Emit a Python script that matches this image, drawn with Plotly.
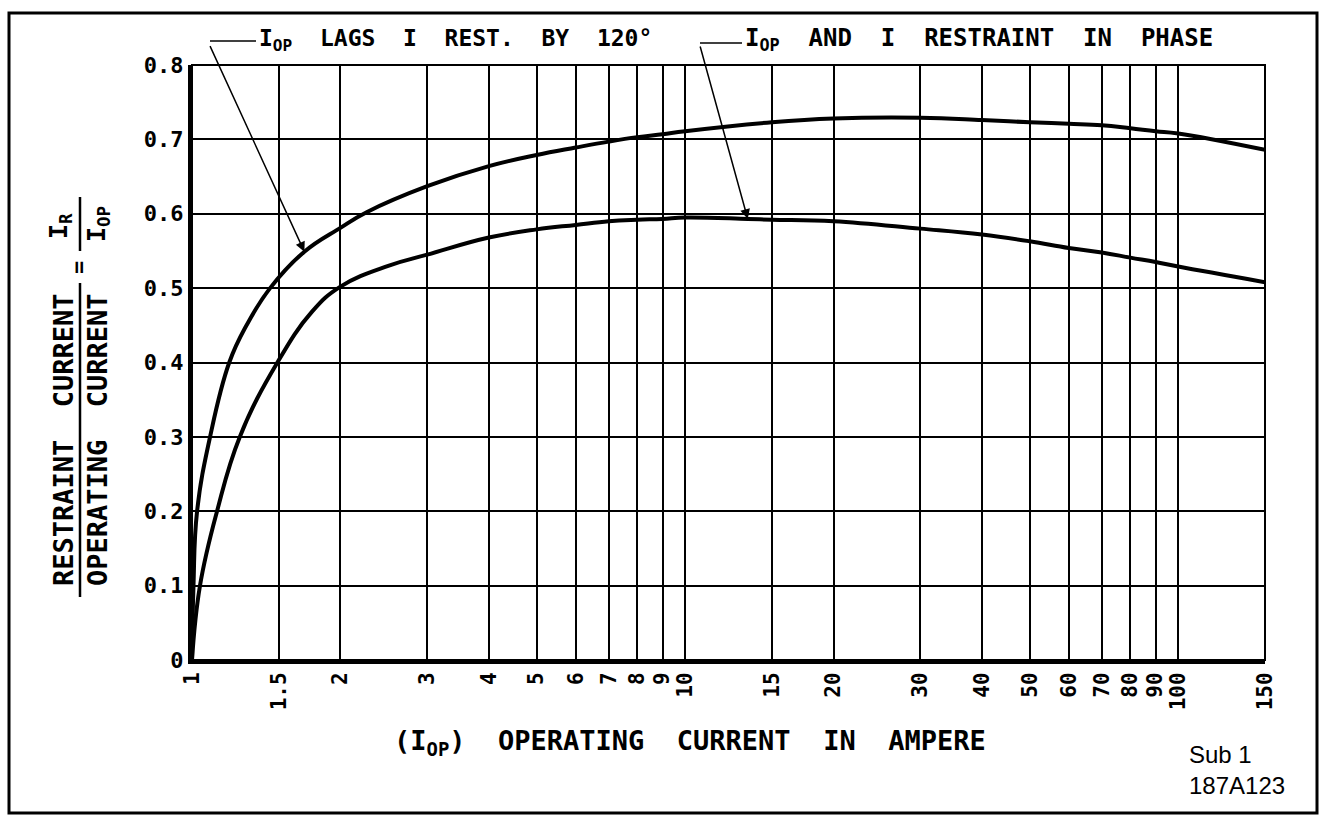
import math
import plotly.graph_objects as go

# ---------------- data ----------------
x_ticks = [1, 1.5, 2, 3, 4, 5, 6, 7, 8, 9, 10, 15, 20, 30, 40, 50, 60, 70, 80, 90, 100, 150]
x_tick_labels = ["1", "1.5", "2", "3", "4", "5", "6", "7", "8", "9", "10", "15", "20",
                 "30", "40", "50", "60", "70", "80", "90", "100", "150"]
y_ticks = [0, 0.1, 0.2, 0.3, 0.4, 0.5, 0.6, 0.7, 0.8]
y_tick_labels = ["0", "0.1", "0.2", "0.3", "0.4", "0.5", "0.6", "0.7", "0.8"]

lag120_x = [1, 1.007, 1.024, 1.088, 1.19, 1.29, 1.44, 1.69, 2, 2.26, 3, 4, 5, 6, 7, 8,
            9, 10, 15, 20, 30, 40, 50, 60, 70, 80, 90, 100, 150]
lag120_y = [0, 0.1, 0.2, 0.3, 0.4, 0.450, 0.5, 0.549, 0.581, 0.602, 0.637, 0.664,
            0.679, 0.689, 0.697, 0.703, 0.707, 0.711, 0.723, 0.728, 0.729, 0.726, 0.723,
            0.721, 0.719, 0.715, 0.711, 0.708, 0.686]

inphase_x = [1, 1.038, 1.124, 1.25, 1.49, 1.75, 2, 2.5, 3, 4, 5, 6, 7, 8, 9, 10, 13.4, 15,
             20, 30, 40, 50, 60, 70, 80, 90, 100, 150]
inphase_y = [0, 0.1, 0.2, 0.3, 0.4, 0.468, 0.502, 0.530, 0.545, 0.568, 0.579, 0.585, 0.590,
             0.592, 0.593, 0.595, 0.593, 0.592, 0.590, 0.580, 0.572, 0.563, 0.554, 0.548,
             0.541, 0.535, 0.529, 0.508]

# ---------------- layout geometry ----------------
W, H = 1321, 821
L, R, T, B = 192, 1265, 65, 660


def px(x):
    return (x - L) / (R - L)


def py(y):
    return (B - y) / (B - T)


MONO = "DejaVu Sans Mono"
SANS = "Liberation Sans, Arial"
NB = "\u00a0"
SP2 = NB * 2

fig = go.Figure()
fig.add_trace(go.Scatter(x=lag120_x, y=lag120_y, mode="lines",
                         line=dict(color="black", width=4, shape="spline", smoothing=1.2),
                         hoverinfo="skip", showlegend=False))
fig.add_trace(go.Scatter(x=inphase_x, y=inphase_y, mode="lines",
                         line=dict(color="black", width=4, shape="spline", smoothing=1.2),
                         hoverinfo="skip", showlegend=False))

fig.update_layout(
    width=W, height=H,
    margin=dict(l=L, r=W - R, t=T, b=H - B),
    paper_bgcolor="white", plot_bgcolor="white",
    showlegend=False,
    xaxis=dict(type="log", range=[0, math.log10(150)],
               tickmode="array", tickvals=x_ticks, ticktext=x_tick_labels,
               tickangle=-90, tickfont=dict(family=MONO, size=21, color="black", weight="bold"),
               showgrid=True, gridcolor="black", gridwidth=2,
               showline=True, linecolor="black", linewidth=4,
               ticks="", zeroline=False),
    yaxis=dict(range=[0, 0.8],
               tickmode="array", tickvals=y_ticks, ticktext=y_tick_labels,
               tickfont=dict(family=MONO, size=22, color="black", weight="bold"),
               showgrid=True, gridcolor="black", gridwidth=2,
               showline=True, linecolor="black", linewidth=4,
               ticks="", zeroline=False),
)

shapes = []
# plot frame
shapes.append(dict(type="rect", xref="paper", yref="paper", x0=0, x1=1, y0=0, y1=1,
                   line=dict(color="black", width=2)))
# outer page frame
shapes.append(dict(type="rect", xref="paper", yref="paper",
                   x0=px(9), x1=px(1317), y0=py(13), y1=py(813),
                   line=dict(color="black", width=3)))
# leader stubs
shapes.append(dict(type="line", xref="paper", yref="paper", x0=px(210), x1=px(256),
                   y0=py(41), y1=py(41), line=dict(color="black", width=1.5)))
shapes.append(dict(type="line", xref="paper", yref="paper", x0=px(700), x1=px(742),
                   y0=py(43), y1=py(43), line=dict(color="black", width=1.5)))
# y-title fraction bars
shapes.append(dict(type="line", xref="paper", yref="paper", x0=px(80), x1=px(80),
                   y0=py(283), y1=py(597), line=dict(color="black", width=2.5)))
shapes.append(dict(type="line", xref="paper", yref="paper", x0=px(80), x1=px(80),
                   y0=py(197), y1=py(251), line=dict(color="black", width=2.5)))
fig.update_layout(shapes=shapes)

ann = []
# curve labels with leaders
ann.append(dict(xref="x", yref="y", x=math.log10(lag120_x[7]), y=lag120_y[7],
                ax=-95, ay=-207, axref="pixel", ayref="pixel", showarrow=True,
                arrowhead=2, arrowsize=1.3, arrowwidth=1.5, arrowcolor="black", text=""))
ann.append(dict(xref="x", yref="y", x=math.log10(inphase_x[16]), y=inphase_y[16],
                ax=-48, ay=-174, axref="pixel", ayref="pixel", showarrow=True,
                arrowhead=2, arrowsize=1.3, arrowwidth=1.5, arrowcolor="black", text=""))
ann.append(dict(xref="paper", yref="paper", x=px(257), y=py(40), xanchor="left", yanchor="middle",
                showarrow=False,
                text="I<sub>OP</sub>" + SP2 + "LAGS" + SP2 + "I" + SP2 + "REST." + SP2 + "BY" + SP2 + "120°",
                font=dict(family=MONO, size=23, color="black", weight="bold")))
ann.append(dict(xref="paper", yref="paper", x=px(743), y=py(40), xanchor="left", yanchor="middle",
                showarrow=False,
                text="I<sub>OP</sub>" + SP2 + "AND" + SP2 + "I" + SP2 + "RESTRAINT" + SP2 + "IN" + SP2 + "PHASE",
                font=dict(family=MONO, size=24, color="black", weight="bold")))
# x-axis title
ann.append(dict(xref="paper", yref="paper", x=px(690), y=py(742), xanchor="center", yanchor="middle",
                showarrow=False,
                text="(I<sub>OP</sub>)" + SP2 + "OPERATING" + SP2 + "CURRENT" + SP2 + "IN" + SP2 + "AMPERE",
                font=dict(family=MONO, size=27, color="black", weight="bold")))
# y-axis title (fraction)
ann.append(dict(xref="paper", yref="paper", x=px(63), y=py(440), xanchor="center", yanchor="middle",
                showarrow=False, textangle=-90,
                text="RESTRAINT" + SP2 + "CURRENT",
                font=dict(family=MONO, size=27, color="black", weight="bold")))
ann.append(dict(xref="paper", yref="paper", x=px(97), y=py(440), xanchor="center", yanchor="middle",
                showarrow=False, textangle=-90,
                text="OPERATING" + SP2 + "CURRENT",
                font=dict(family=MONO, size=27, color="black", weight="bold")))
ann.append(dict(xref="paper", yref="paper", x=px(78), y=py(268), xanchor="center", yanchor="middle",
                showarrow=False, textangle=-90, text="=",
                font=dict(family=MONO, size=22, color="black", weight="bold")))
ann.append(dict(xref="paper", yref="paper", x=px(60), y=py(226), xanchor="center", yanchor="middle",
                showarrow=False, textangle=-90, text="I<sub>R</sub>",
                font=dict(family=MONO, size=25, color="black", weight="bold")))
ann.append(dict(xref="paper", yref="paper", x=px(98), y=py(224), xanchor="center", yanchor="middle",
                showarrow=False, textangle=-90, text="I<sub>OP</sub>",
                font=dict(family=MONO, size=25, color="black", weight="bold")))
# drawing number
ann.append(dict(xref="paper", yref="paper", x=px(1187), y=py(770), xanchor="left", yanchor="middle",
                showarrow=False, align="left", text="Sub 1<br>187A123",
                font=dict(family=SANS, size=24, color="black")))
fig.update_layout(annotations=ann)

fig.write_html("out.html", config={"displayModeBar": False},
               post_script="document.body.style.margin='0px';")
